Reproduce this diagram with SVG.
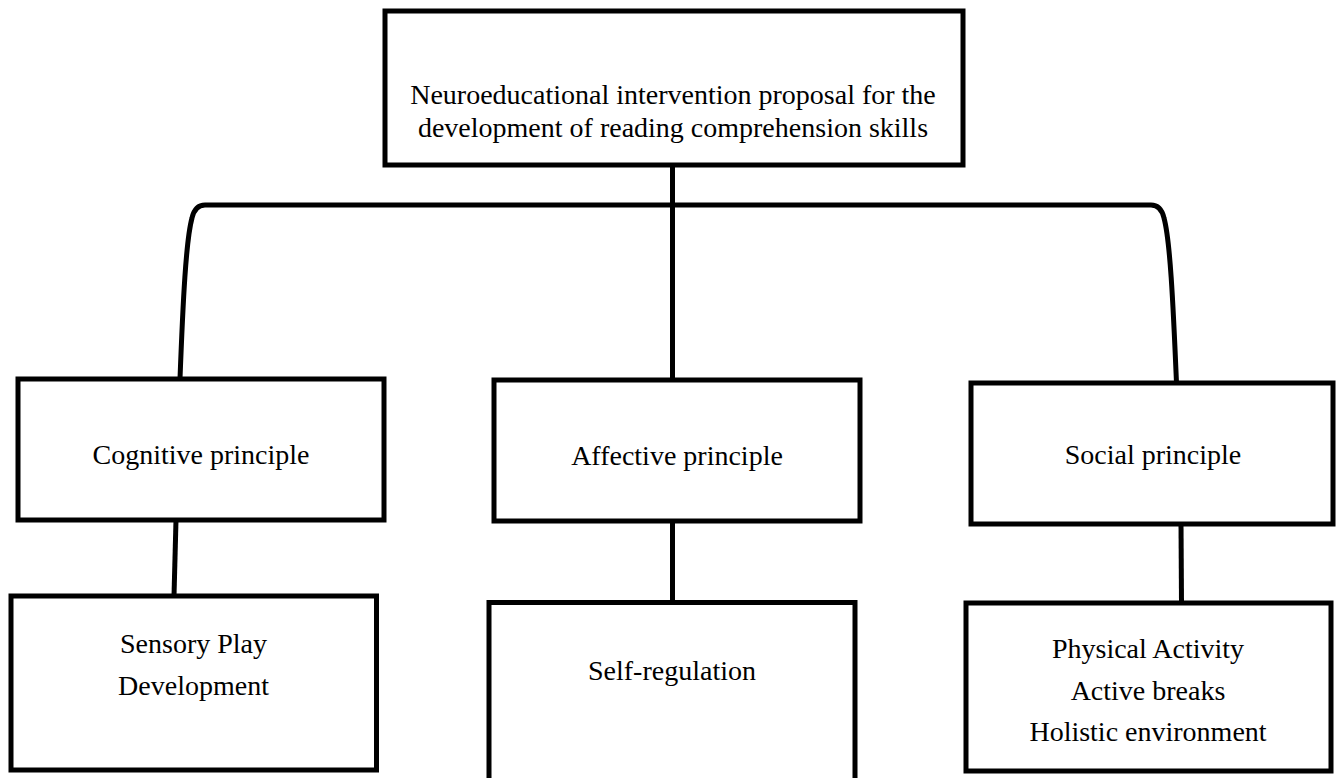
<svg xmlns="http://www.w3.org/2000/svg" width="1337" height="778" viewBox="0 0 1337 778">
  <style>
    .box { fill: #ffffff; stroke: #000000; stroke-width: 5; }
    .conn { fill: none; stroke: #000000; stroke-width: 5; }
    .lbl { font-family: "Liberation Serif", "Times New Roman", serif; font-size: 28px; fill: #000000; text-anchor: middle; }
  </style>
  <rect x="0" y="0" width="1337" height="778" fill="#ffffff"/>
  <g id="connectors">
    <path class="conn" d="M672.5,165 L672.5,380"/>
    <path class="conn" d="M180,379 C183,300 186,240 192,218 Q195,205 205,205 L1151,205 Q1161,205 1164,218 C1170,240 1173,300 1176.5,383"/>
    <path class="conn" d="M176,520 L174,596"/>
    <path class="conn" d="M672.5,521 L672.5,602.5"/>
    <path class="conn" d="M1181,524 L1181.5,603"/>
  </g>
  <g id="node-root">
    <rect class="box" x="385" y="11" width="578" height="154"/>
    <text class="lbl" x="673" y="104">Neuroeducational intervention proposal for the</text>
    <text class="lbl" x="673" y="137">development of reading comprehension skills</text>
  </g>
  <g id="node-cognitive">
    <rect class="box" x="18" y="379" width="366" height="141"/>
    <text class="lbl" x="201" y="464">Cognitive principle</text>
  </g>
  <g id="node-affective">
    <rect class="box" x="494" y="380" width="366" height="141"/>
    <text class="lbl" x="677" y="465">Affective principle</text>
  </g>
  <g id="node-social">
    <rect class="box" x="971" y="383" width="362" height="141"/>
    <text class="lbl" x="1153" y="464">Social principle</text>
  </g>
  <g id="node-sensory">
    <rect class="box" x="11" y="596" width="365.5" height="174"/>
    <text class="lbl" x="193.5" y="653">Sensory Play</text>
    <text class="lbl" x="193.5" y="695">Development</text>
  </g>
  <g id="node-selfreg">
    <rect class="box" x="489" y="602.5" width="366" height="200"/>
    <text class="lbl" x="672" y="680">Self-regulation</text>
  </g>
  <g id="node-social-activities">
    <rect class="box" x="966" y="603" width="365" height="168"/>
    <text class="lbl" x="1148" y="658">Physical Activity</text>
    <text class="lbl" x="1148" y="699.5">Active breaks</text>
    <text class="lbl" x="1148" y="741">Holistic environment</text>
  </g>
</svg>
